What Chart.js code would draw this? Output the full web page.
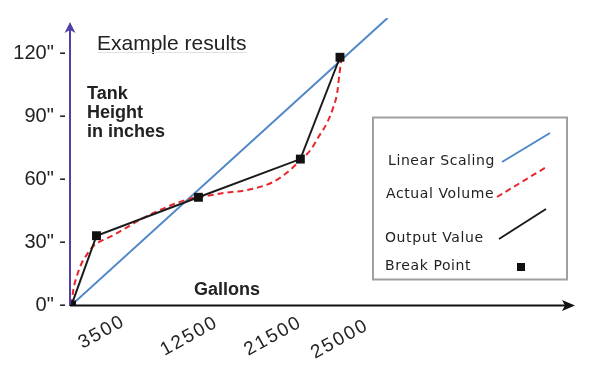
<!DOCTYPE html>
<html>
<head>
<meta charset="utf-8">
<title>Example results</title>
<script src="https://cdn.jsdelivr.net/npm/chart.js@4.4.1/dist/chart.umd.min.js"></script>
<style>
  html, body { margin: 0; padding: 0; background: #fff; }
  #wrap { width: 600px; height: 379px; }
</style>
</head>
<body>
<div id="wrap"><canvas id="chart" width="600" height="379"></canvas></div>
<script>
    const titleText = "Example results";
    const yAxisTitle = ["Tank", "Height", "in inches"];
    const xAxisTitle = "Gallons";
    const seriesLabels = ["Linear Scaling", "Actual Volume", "Output Value", "Break Point"];

    const xTicks = [3500, 12500, 21500, 25000];
    const yTicks = [0, 30, 60, 90, 120];

    // straight reference line (gallons / inches)
    const linearGallons = [1300, 29200];
    const linearHeights = [0, 136.7];

    // actual tank volume curve
    const actualGallons = [1300, 1450, 1750, 2200, 2650, 3200, 4100, 5000, 6200, 7600, 9100, 10600, 12000,
        13300, 14700, 17000, 19100, 20600, 21500, 22400, 23100, 23850, 24400, 24750, 24950, 25150];
    const actualHeights = [0, 7, 13.5, 20, 24, 28, 31, 33.3, 37, 41.4, 45.2, 48.6, 51,
        52, 53.3, 55, 58.6, 64.3, 69, 73.8, 80, 86.7, 94, 101, 110, 118];

    // break points of the piecewise output
    const breakGallons = [1300, 3500, 12500, 21500, 25000];
    const breakHeights = [0, 33, 51.3, 69.5, 118];

    const colors = {
        linear: "#4f87c9",
        actual: "#e8262b",
        output: "#1b1b1b",
        axisY: "#5040a8",
        text: "#222"
    };
    const sans = "\"Liberation Sans\", Arial, sans-serif";

    const toPoints = (xs, ys) => xs.map((x, i) => ({ x, y: ys[i] }));

    const decor = {
        id: "decor",
        afterDraw(chart) {
            const { ctx, chartArea: a } = chart;
            const xScale = chart.scales.x;
            ctx.save();

            // y axis with arrow
            const ax = a.left - 1;
            const tip = chart.scales.y.getPixelForValue(134.8);
            ctx.strokeStyle = colors.axisY;
            ctx.fillStyle = colors.axisY;
            ctx.lineWidth = 2;
            ctx.beginPath();
            ctx.moveTo(ax, a.bottom + 1);
            ctx.lineTo(ax, tip + 6);
            ctx.stroke();
            ctx.beginPath();
            ctx.moveTo(ax, tip);
            ctx.lineTo(ax - 5.5, tip + 11);
            ctx.lineTo(ax, tip + 8);
            ctx.lineTo(ax + 5.5, tip + 11);
            ctx.closePath();
            ctx.fill();

            // x axis with arrow
            const ay = a.bottom + 0.5;
            ctx.strokeStyle = "#111";
            ctx.fillStyle = "#111";
            ctx.beginPath();
            ctx.moveTo(ax, ay);
            ctx.lineTo(a.right - 8, ay);
            ctx.stroke();
            ctx.beginPath();
            ctx.moveTo(a.right, ay);
            ctx.lineTo(a.right - 13, ay - 5.5);
            ctx.lineTo(a.right - 10, ay);
            ctx.lineTo(a.right - 13, ay + 5.5);
            ctx.closePath();
            ctx.fill();

            // slanted gallon labels, placed from the x scale
            const labelShift = [[-14, 349], [-34, 356], [-52, 356], [-25, 359]];
            ctx.fillStyle = colors.text;
            ctx.font = `19px ${sans}`;
            ctx.letterSpacing = "2px";
            ctx.textAlign = "left";
            ctx.textBaseline = "alphabetic";
            xTicks.forEach((v, i) => {
                const [dx, by] = labelShift[i];
                ctx.save();
                ctx.translate(xScale.getPixelForValue(v) + dx, by);
                ctx.rotate(-29 * Math.PI / 180);
                ctx.fillText(String(v), 0, 0);
                ctx.restore();
            });
            ctx.letterSpacing = "0px";

            // texts
            ctx.fillStyle = colors.text;
            ctx.textBaseline = "middle";
            ctx.textAlign = "left";
            ctx.font = `21px ${sans}`;
            ctx.fillText(titleText, 97, 44);
            ctx.strokeStyle = "#e2e2e2";
            ctx.lineWidth = 1;
            ctx.beginPath();
            ctx.moveTo(97, 52.5);
            ctx.lineTo(247, 52.5);
            ctx.stroke();

            ctx.font = `bold 18px ${sans}`;
            yAxisTitle.forEach((line, i) => ctx.fillText(line, 87, 94 + i * 19));
            ctx.fillText(xAxisTitle, 194, 290);

            // legend box
            ctx.strokeStyle = "#a0a0a0";
            ctx.lineWidth = 2;
            ctx.strokeRect(373, 117.5, 194, 162);

            ctx.font = "14px \"DejaVu Sans\", sans-serif";
            ctx.letterSpacing = "0.6px";
            ctx.fillStyle = colors.text;
            const rows = [
                { y: 161, x: 388, line: [502, 162, 550, 133], color: colors.linear, dash: [] },
                { y: 194, x: 386, line: [497, 197, 548, 166], color: colors.actual, dash: [6, 4] },
                { y: 238, x: 385, line: [499, 239, 546, 209], color: colors.output, dash: [] },
                { y: 266, x: 385 }
            ];
            rows.forEach((r, i) => {
                ctx.fillText(seriesLabels[i], r.x, r.y);
            });
            ctx.letterSpacing = "0px";
            rows.slice(0, 3).forEach(r => {
                ctx.strokeStyle = r.color;
                ctx.lineWidth = 2;
                ctx.setLineDash(r.dash);
                ctx.beginPath();
                ctx.moveTo(r.line[0], r.line[1]);
                ctx.lineTo(r.line[2], r.line[3]);
                ctx.stroke();
            });
            ctx.setLineDash([]);
            ctx.fillStyle = "#111";
            ctx.fillRect(517, 263, 8, 8);

            ctx.restore();
        }
    };

    new Chart(document.getElementById("chart"), {
        type: "scatter",
        data: {
            datasets: [{
                label: seriesLabels[3],
                data: toPoints(breakGallons, breakHeights),
                pointStyle: "rect",
                pointRadius: 6.3,
                backgroundColor: "#111",
                borderWidth: 0,
                showLine: false
            }, {
                label: seriesLabels[2],
                data: toPoints(breakGallons, breakHeights),
                showLine: true,
                borderColor: colors.output,
                borderWidth: 2,
                pointRadius: 0,
                tension: 0
            }, {
                label: seriesLabels[1],
                data: toPoints(actualGallons, actualHeights),
                showLine: true,
                borderColor: colors.actual,
                borderWidth: 2,
                borderDash: [6, 4],
                pointRadius: 0,
                cubicInterpolationMode: "monotone"
            }, {
                label: seriesLabels[0],
                data: toPoints(linearGallons, linearHeights),
                showLine: true,
                borderColor: colors.linear,
                borderWidth: 2,
                pointRadius: 0
            }]
        },
        options: {
            responsive: false,
            animation: false,
            events: [],
            layout: {
                padding: { top: 18, right: 25, left: 0, bottom: 0 }
            },
            plugins: {
                legend: { display: false },
                tooltip: { enabled: false }
            },
            scales: {
                x: {
                    type: "linear",
                    min: 1250,
                    max: 45750,
                    border: { display: false },
                    grid: { display: false, drawTicks: false },
                    afterBuildTicks: s => {
                        s.ticks = xTicks.map(v => ({ value: v }));
                    },
                    afterFit: s => {
                        s.height = 74;
                    },
                    ticks: { display: false }
                },
                y: {
                    type: "linear",
                    min: 0,
                    max: 136.7,
                    border: { display: false },
                    grid: { display: false, drawTicks: false },
                    afterBuildTicks: s => {
                        s.ticks = yTicks.map(v => ({ value: v }));
                    },
                    afterFit: s => {
                        s.width = 71;
                    },
                    ticks: {
                        padding: 5,
                        color: colors.text,
                        font: { family: sans, size: 20 },
                        callback: v => `${v}" -`
                    }
                }
            }
        },
        plugins: [decor]
    });
</script>
</body>
</html>
